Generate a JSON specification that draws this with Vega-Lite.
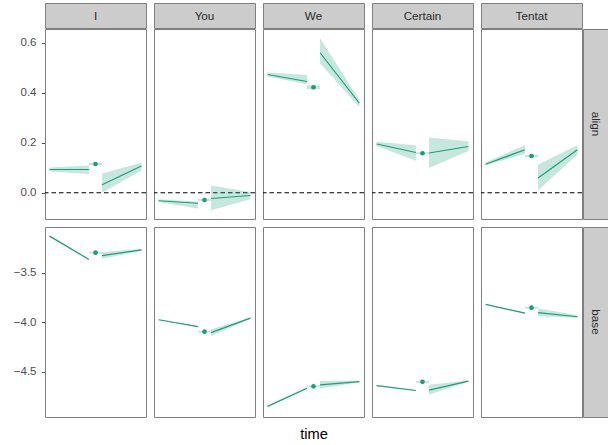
{
  "$schema": "https://vega.github.io/schema/vega-lite/v6.json",
  "background": "white",
  "padding": {"left": 0, "top": 2, "right": 0, "bottom": 0},
  "config": {
    "font": "Liberation Sans",
    "view": {"stroke": "#7F7F7F", "strokeWidth": 1},
    "axis": {"grid": false, "domain": false, "labelFont": "Liberation Sans", "labelFontSize": 11.5, "labelColor": "#4D4D4D", "tickColor": "#555555", "tickSize": 3.7, "labelPadding": 5.3}
  },
  "datasets": {
    "fits": [
      {"kind": "band", "row": "align", "var": "I", "seg": "pre", "time": -7, "fit": 0.093, "lo": 0.085, "hi": 0.101},
      {"kind": "band", "row": "align", "var": "I", "seg": "pre", "time": -1, "fit": 0.093, "lo": 0.075, "hi": 0.109},
      {"kind": "band", "row": "align", "var": "I", "seg": "mid", "time": -1, "fit": 0.115, "lo": 0.111, "hi": 0.119},
      {"kind": "band", "row": "align", "var": "I", "seg": "mid", "time": 1, "fit": 0.115, "lo": 0.111, "hi": 0.119},
      {"kind": "point", "row": "align", "var": "I", "seg": "point", "time": 0, "fit": 0.115},
      {"kind": "band", "row": "align", "var": "I", "seg": "post", "time": 1, "fit": 0.032, "lo": 0.0, "hi": 0.077},
      {"kind": "band", "row": "align", "var": "I", "seg": "post", "time": 7, "fit": 0.107, "lo": 0.089, "hi": 0.12},

      {"kind": "band", "row": "align", "var": "You", "seg": "pre", "time": -7, "fit": -0.032, "lo": -0.037, "hi": -0.026},
      {"kind": "band", "row": "align", "var": "You", "seg": "pre", "time": -1, "fit": -0.042, "lo": -0.063, "hi": -0.036},
      {"kind": "band", "row": "align", "var": "You", "seg": "mid", "time": -1, "fit": -0.029, "lo": -0.033, "hi": -0.025},
      {"kind": "band", "row": "align", "var": "You", "seg": "mid", "time": 1, "fit": -0.029, "lo": -0.033, "hi": -0.025},
      {"kind": "point", "row": "align", "var": "You", "seg": "point", "time": 0, "fit": -0.029},
      {"kind": "band", "row": "align", "var": "You", "seg": "post", "time": 1, "fit": -0.023, "lo": -0.07, "hi": 0.029},
      {"kind": "band", "row": "align", "var": "You", "seg": "post", "time": 7, "fit": -0.011, "lo": -0.026, "hi": 0.003},

      {"kind": "band", "row": "align", "var": "We", "seg": "pre", "time": -7, "fit": 0.473, "lo": 0.465, "hi": 0.481},
      {"kind": "band", "row": "align", "var": "We", "seg": "pre", "time": -1, "fit": 0.445, "lo": 0.434, "hi": 0.471},
      {"kind": "band", "row": "align", "var": "We", "seg": "mid", "time": -1, "fit": 0.422, "lo": 0.414, "hi": 0.43},
      {"kind": "band", "row": "align", "var": "We", "seg": "mid", "time": 1, "fit": 0.422, "lo": 0.414, "hi": 0.43},
      {"kind": "point", "row": "align", "var": "We", "seg": "point", "time": 0, "fit": 0.422},
      {"kind": "band", "row": "align", "var": "We", "seg": "post", "time": 1, "fit": 0.56, "lo": 0.518, "hi": 0.618},
      {"kind": "band", "row": "align", "var": "We", "seg": "post", "time": 7, "fit": 0.358, "lo": 0.342, "hi": 0.372},

      {"kind": "band", "row": "align", "var": "Certain", "seg": "pre", "time": -7, "fit": 0.195, "lo": 0.187, "hi": 0.204},
      {"kind": "band", "row": "align", "var": "Certain", "seg": "pre", "time": -1, "fit": 0.161, "lo": 0.128, "hi": 0.19},
      {"kind": "band", "row": "align", "var": "Certain", "seg": "mid", "time": -1, "fit": 0.158, "lo": 0.154, "hi": 0.162},
      {"kind": "band", "row": "align", "var": "Certain", "seg": "mid", "time": 1, "fit": 0.158, "lo": 0.154, "hi": 0.162},
      {"kind": "point", "row": "align", "var": "Certain", "seg": "point", "time": 0, "fit": 0.158},
      {"kind": "band", "row": "align", "var": "Certain", "seg": "post", "time": 1, "fit": 0.159, "lo": 0.099, "hi": 0.221},
      {"kind": "band", "row": "align", "var": "Certain", "seg": "post", "time": 7, "fit": 0.185, "lo": 0.167, "hi": 0.206},

      {"kind": "band", "row": "align", "var": "Tentat", "seg": "pre", "time": -7, "fit": 0.114, "lo": 0.11, "hi": 0.121},
      {"kind": "band", "row": "align", "var": "Tentat", "seg": "pre", "time": -1, "fit": 0.172, "lo": 0.155, "hi": 0.191},
      {"kind": "band", "row": "align", "var": "Tentat", "seg": "mid", "time": -1, "fit": 0.147, "lo": 0.142, "hi": 0.152},
      {"kind": "band", "row": "align", "var": "Tentat", "seg": "mid", "time": 1, "fit": 0.147, "lo": 0.142, "hi": 0.152},
      {"kind": "point", "row": "align", "var": "Tentat", "seg": "point", "time": 0, "fit": 0.147},
      {"kind": "band", "row": "align", "var": "Tentat", "seg": "post", "time": 1, "fit": 0.059, "lo": 0.009, "hi": 0.113},
      {"kind": "band", "row": "align", "var": "Tentat", "seg": "post", "time": 7, "fit": 0.172, "lo": 0.153, "hi": 0.19},

      {"kind": "band", "row": "base", "var": "I", "seg": "pre", "time": -7, "fit": -3.133, "lo": -3.137, "hi": -3.129},
      {"kind": "band", "row": "base", "var": "I", "seg": "pre", "time": -1, "fit": -3.368, "lo": -3.372, "hi": -3.364},
      {"kind": "band", "row": "base", "var": "I", "seg": "mid", "time": -1, "fit": -3.3, "lo": -3.31, "hi": -3.29},
      {"kind": "band", "row": "base", "var": "I", "seg": "mid", "time": 1, "fit": -3.3, "lo": -3.31, "hi": -3.29},
      {"kind": "point", "row": "base", "var": "I", "seg": "point", "time": 0, "fit": -3.3},
      {"kind": "band", "row": "base", "var": "I", "seg": "post", "time": 1, "fit": -3.329, "lo": -3.361, "hi": -3.293},
      {"kind": "band", "row": "base", "var": "I", "seg": "post", "time": 7, "fit": -3.272, "lo": -3.283, "hi": -3.262},

      {"kind": "band", "row": "base", "var": "You", "seg": "pre", "time": -7, "fit": -3.975, "lo": -3.979, "hi": -3.971},
      {"kind": "band", "row": "base", "var": "You", "seg": "pre", "time": -1, "fit": -4.045, "lo": -4.049, "hi": -4.041},
      {"kind": "band", "row": "base", "var": "You", "seg": "mid", "time": -1, "fit": -4.095, "lo": -4.105, "hi": -4.085},
      {"kind": "band", "row": "base", "var": "You", "seg": "mid", "time": 1, "fit": -4.095, "lo": -4.105, "hi": -4.085},
      {"kind": "point", "row": "base", "var": "You", "seg": "point", "time": 0, "fit": -4.095},
      {"kind": "band", "row": "base", "var": "You", "seg": "post", "time": 1, "fit": -4.105, "lo": -4.139, "hi": -4.072},
      {"kind": "band", "row": "base", "var": "You", "seg": "post", "time": 7, "fit": -3.959, "lo": -3.966, "hi": -3.953},

      {"kind": "band", "row": "base", "var": "We", "seg": "pre", "time": -7, "fit": -4.848, "lo": -4.852, "hi": -4.844},
      {"kind": "band", "row": "base", "var": "We", "seg": "pre", "time": -1, "fit": -4.665, "lo": -4.675, "hi": -4.655},
      {"kind": "band", "row": "base", "var": "We", "seg": "mid", "time": -1, "fit": -4.646, "lo": -4.656, "hi": -4.636},
      {"kind": "band", "row": "base", "var": "We", "seg": "mid", "time": 1, "fit": -4.646, "lo": -4.656, "hi": -4.636},
      {"kind": "point", "row": "base", "var": "We", "seg": "point", "time": 0, "fit": -4.646},
      {"kind": "band", "row": "base", "var": "We", "seg": "post", "time": 1, "fit": -4.631, "lo": -4.667, "hi": -4.592},
      {"kind": "band", "row": "base", "var": "We", "seg": "post", "time": 7, "fit": -4.599, "lo": -4.608, "hi": -4.588},

      {"kind": "band", "row": "base", "var": "Certain", "seg": "pre", "time": -7, "fit": -4.638, "lo": -4.642, "hi": -4.634},
      {"kind": "band", "row": "base", "var": "Certain", "seg": "pre", "time": -1, "fit": -4.688, "lo": -4.692, "hi": -4.684},
      {"kind": "band", "row": "base", "var": "Certain", "seg": "mid", "time": -1, "fit": -4.601, "lo": -4.611, "hi": -4.591},
      {"kind": "band", "row": "base", "var": "Certain", "seg": "mid", "time": 1, "fit": -4.601, "lo": -4.611, "hi": -4.591},
      {"kind": "point", "row": "base", "var": "Certain", "seg": "point", "time": 0, "fit": -4.601},
      {"kind": "band", "row": "base", "var": "Certain", "seg": "post", "time": 1, "fit": -4.685, "lo": -4.732, "hi": -4.631},
      {"kind": "band", "row": "base", "var": "Certain", "seg": "post", "time": 7, "fit": -4.594, "lo": -4.6, "hi": -4.588},

      {"kind": "band", "row": "base", "var": "Tentat", "seg": "pre", "time": -7, "fit": -3.821, "lo": -3.825, "hi": -3.817},
      {"kind": "band", "row": "base", "var": "Tentat", "seg": "pre", "time": -1, "fit": -3.908, "lo": -3.912, "hi": -3.904},
      {"kind": "band", "row": "base", "var": "Tentat", "seg": "mid", "time": -1, "fit": -3.854, "lo": -3.864, "hi": -3.844},
      {"kind": "band", "row": "base", "var": "Tentat", "seg": "mid", "time": 1, "fit": -3.854, "lo": -3.864, "hi": -3.844},
      {"kind": "point", "row": "base", "var": "Tentat", "seg": "point", "time": 0, "fit": -3.854},
      {"kind": "band", "row": "base", "var": "Tentat", "seg": "post", "time": 1, "fit": -3.904, "lo": -3.939, "hi": -3.861},
      {"kind": "band", "row": "base", "var": "Tentat", "seg": "post", "time": 7, "fit": -3.945, "lo": -3.955, "hi": -3.929}
    ]
  },
  "columns": 2,
  "spacing": {"row": -2, "column": -3},
  "concat": [
    {
      "data": {"name": "fits"},
      "transform": [{"filter": "datum.kind === 'point' && datum.row === 'align'"}],
      "facet": {"column": {"field": "var", "sort": ["I", "You", "We", "Certain", "Tentat"], "header": null}},
      "spacing": 8,
      "bounds": "flush",
      "spec": {
        "width": 101,
        "height": 25,
        "view": {"fill": "#CCCCCC", "stroke": "#7F7F7F"},
        "mark": {"type": "text", "font": "Liberation Sans", "fontSize": 11.7, "fontWeight": "normal", "color": "#2B2B2B", "baseline": "middle"},
        "encoding": {"text": {"field": "var"}}
      }
    },
    {
      "data": {"values": []},
      "width": 25,
      "height": 25,
      "view": {"stroke": null},
      "mark": "point"
    },
    {
      "data": {"name": "fits"},
      "transform": [{"filter": "datum.row === 'align'"}],
      "facet": {"column": {"field": "var", "sort": ["I", "You", "We", "Certain", "Tentat"], "header": null}},
      "spacing": 8,
      "bounds": "flush",
      "spec": {
        "width": 101,
        "height": 190,
        "layer": [
          {
            "transform": [{"filter": "datum.kind === 'point'"}],
            "mark": {"type": "rule", "color": "#000000", "strokeWidth": 1, "strokeDash": [4.5, 3]},
            "encoding": {"y": {"datum": 0, "type": "quantitative"}}
          },
          {
            "transform": [{"filter": "datum.kind === 'band'"}],
            "mark": {"type": "area", "color": "#1B9E77", "opacity": 0.25},
            "encoding": {
              "x": {"field": "time", "type": "quantitative", "scale": {"domain": [-7.7, 7.7], "nice": false, "zero": false}, "axis": {"labels": false, "ticks": false, "domain": false, "title": null, "minExtent": 8, "maxExtent": 8}},
              "y": {"field": "lo", "type": "quantitative", "scale": {"domain": [-0.105, 0.655], "nice": false, "zero": false}, "axis": {"values": [0, 0.2, 0.4, 0.6], "format": ".1f", "title": null, "minExtent": 44.3, "maxExtent": 44.3}},
              "y2": {"field": "hi"},
              "detail": {"field": "seg"}
            }
          },
          {
            "transform": [{"filter": "datum.kind === 'band' && datum.seg !== 'mid'"}],
            "mark": {"type": "line", "color": "#1B9E77", "strokeWidth": 1.2},
            "encoding": {
              "x": {"field": "time", "type": "quantitative"},
              "y": {"field": "fit", "type": "quantitative"},
              "detail": {"field": "seg"}
            }
          },
          {
            "transform": [{"filter": "datum.kind === 'point'"}],
            "mark": {"type": "circle", "color": "#1B9E77", "opacity": 1, "size": 22},
            "encoding": {
              "x": {"field": "time", "type": "quantitative"},
              "y": {"field": "fit", "type": "quantitative"}
            }
          }
        ]
      }
    },
    {
      "data": {"name": "fits"},
      "transform": [{"filter": "datum.kind === 'point' && datum.row === 'align' && datum.var === 'I'"}],
      "width": 25,
      "height": 190,
      "view": {"fill": "#CCCCCC", "stroke": "#7F7F7F"},
      "mark": {"type": "text", "angle": 90, "font": "Liberation Sans", "fontSize": 11.7, "fontWeight": "normal", "color": "#2B2B2B", "baseline": "middle"},
      "encoding": {"text": {"field": "row"}}
    },
    {
      "data": {"name": "fits"},
      "transform": [{"filter": "datum.row === 'base'"}],
      "facet": {"column": {"field": "var", "sort": ["I", "You", "We", "Certain", "Tentat"], "title": "time", "header": {"labels": false, "titleOrient": "bottom", "titleFont": "Liberation Sans", "titleFontSize": 14.7, "titleFontWeight": "normal", "titleColor": "#000000", "titlePadding": 0}}},
      "spacing": 8,
      "bounds": "flush",
      "spec": {
        "width": 101,
        "height": 190,
        "layer": [
          {
            "transform": [{"filter": "datum.kind === 'band'"}],
            "mark": {"type": "area", "color": "#1B9E77", "opacity": 0.25},
            "encoding": {
              "x": {"field": "time", "type": "quantitative", "scale": {"domain": [-7.7, 7.7], "nice": false, "zero": false}, "axis": null},
              "y": {"field": "lo", "type": "quantitative", "scale": {"domain": [-4.955, -3.041], "nice": false, "zero": false}, "axis": {"values": [-4.5, -4.0, -3.5], "format": ".1f", "title": null, "minExtent": 44.3, "maxExtent": 44.3}},
              "y2": {"field": "hi"},
              "detail": {"field": "seg"}
            }
          },
          {
            "transform": [{"filter": "datum.kind === 'band' && datum.seg !== 'mid'"}],
            "mark": {"type": "line", "color": "#1B9E77", "strokeWidth": 1.2},
            "encoding": {
              "x": {"field": "time", "type": "quantitative"},
              "y": {"field": "fit", "type": "quantitative"},
              "detail": {"field": "seg"}
            }
          },
          {
            "transform": [{"filter": "datum.kind === 'point'"}],
            "mark": {"type": "circle", "color": "#1B9E77", "opacity": 1, "size": 22},
            "encoding": {
              "x": {"field": "time", "type": "quantitative"},
              "y": {"field": "fit", "type": "quantitative"}
            }
          }
        ]
      }
    },
    {
      "data": {"name": "fits"},
      "transform": [{"filter": "datum.kind === 'point' && datum.row === 'base' && datum.var === 'I'"}],
      "width": 25,
      "height": 190,
      "view": {"fill": "#CCCCCC", "stroke": "#7F7F7F"},
      "mark": {"type": "text", "angle": 90, "font": "Liberation Sans", "fontSize": 11.7, "fontWeight": "normal", "color": "#2B2B2B", "baseline": "middle"},
      "encoding": {"text": {"field": "row"}}
    }
  ]
}
